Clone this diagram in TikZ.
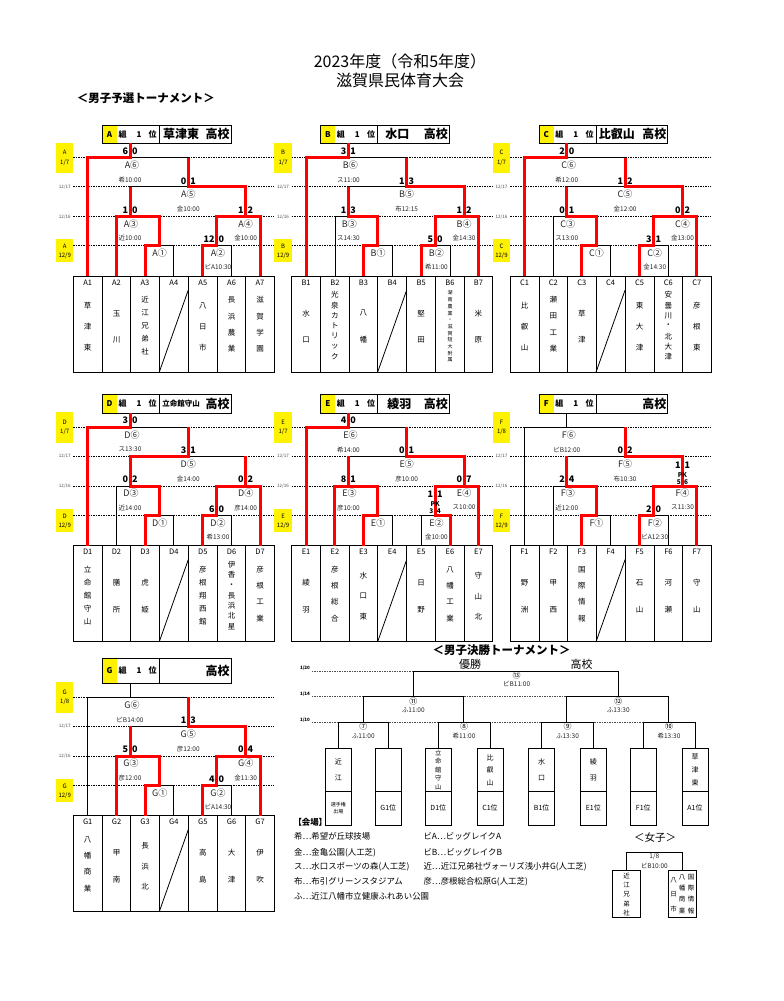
\documentclass[tikz,border=0pt]{standalone}
\usepackage{fontspec}
\setmainfont{Noto Sans CJK JP}
\newcommand{\fs}[1]{\fontsize{#1}{#1}\selectfont}
\newcommand{\tn}[3]{%
  \ifcase#2\or\or\def\yz{313.3}\def\dyy{26.7}%
  \or\def\yz{306}\def\dyy{20.7}%
  \or\def\yz{300}\def\dyy{16.2}%
  \or\def\yz{300}\def\dyy{13}%
  \or\or\def\yz{295}\def\dyy{10.3}\fi
  \foreach \ch [count=\k from 0] in {#3} {\node[nm] at (#1,{\yz+\k*\dyy}) {\ch};}}
\newcommand{\vlist}[5]{\foreach \ch [count=\k from 0] in {#5} {\node[inner sep=0,font=#4] at (#1,{#2+\k*#3}) {\ch};}}
\newcommand{\sco}[4]{\node[sc,anchor=east] at ({#1-1.8},#2) {#3}; \node[sc,anchor=west] at ({#1+1.8},#2) {#4};}
\newcommand{\gven}[5]{\node[ven] at (130,180) {#1}; \node[ven] at (188.3,209) {#2}; \node[ven] at (130,238) {#3}; \node[ven] at (245.7,238) {#4}; \node[ven] at (218,267.3) {#5};}
\newcommand{\gbase}[3]{%
  \fill[yellow] (56,142.7) rectangle (73.3,173.3);
  \node[dt] at (64.7,152.7) {#1};
  \node[dt] at (64.7,162.3) {#2};
  \node[dts] at (64.7,187) {12/17};
  \node[dts] at (64.7,216.7) {12/16};
  \fill[yellow] (56,239) rectangle (73.3,262);
  \node[dt] at (64.7,246.2) {#1};
  \node[dt] at (64.7,255.8) {12/9};
  \foreach \yy in {157.7,186.7,216.7,245.7} {\draw[dl] (73.3,\yy) -- (274.3,\yy);}
  \draw[br] (87.7,276) -- (87.7,157.7) -- (188.3,157.7) -- (188.3,186.7);
  \draw[br] (130,{#3+0}) ++(0,{143.3-#3}) -- (130,157.7);
  \draw[br] (130,216.7) -- (130,186.7) -- (245.7,186.7) -- (245.7,216.7);
  \draw[br] (116.5,276) -- (116.5,216.7) -- (159.3,216.7) -- (159.3,245.7);
  \draw[br] (216.7,245.7) -- (216.7,216.7) -- (260,216.7) -- (260,276);
  \draw[br] (145,276) -- (145,245.7) -- (173.8,245.7) -- (173.8,276);
  \draw[br] (202.7,276) -- (202.7,245.7) -- (231.6,245.7) -- (231.6,276);
  \draw[br] (73.3,276) rectangle (274.3,372);
  \foreach \xx in {102.3,130.7,159.3,188.3,217.3,245.7} {\draw[br] (\xx,276) -- (\xx,372);}
  \draw[br] (159.3,372) -- (188.3,290);
  \foreach \i/\xx in {1/87.7,2/116.5,3/145,4/173.8,5/202.8,6/231.6,7/260} {\node[tid] at (\xx,282.5) {#1\i};}
  \fill[yellow] (102.3,#3) rectangle (117,143.3);
  \draw[br] (102.3,#3) rectangle (231,143.3);
  \draw[br] (159.3,#3) -- (159.3,143.3);
  \node[hd] at (109.6,{(#3+143.3)/2}) {#1};
  \node[hd] at (122.5,{(#3+143.3)/2}) {組};
  \node[hd] at (139,{(#3+143.3)/2}) {\itshape 1};
  \node[hd] at (152.7,{(#3+143.3)/2}) {位};
  \node[hn] at (217.5,{(#3+143.3)/2}) {高校};
  \node[lab] at (132,165) {#1⑥};
  \node[lab] at (188.3,194) {#1⑤};
  \node[lab] at (131,223.7) {#1③};
  \node[lab] at (245.7,223.7) {#1④};
  \node[lab] at (159.7,253.3) {#1①};
  \node[lab] at (218,253.3) {#1②};
}
\newcommand{\rsix}{\draw[rd] (130,143.3) -- (130,157.7) -- (87.7,157.7) -- (87.7,276);}
\newcommand{\rfiveR}{\draw[rd] (188.3,157.7) -- (188.3,186.7) -- (245.7,186.7) -- (245.7,216.7) -- (260,216.7) -- (260,276);}
\newcommand{\rthreeL}{\draw[rd] (116.5,276) -- (116.5,216.7) -- (159.3,216.7) -- (159.3,245.7) -- (145,245.7) -- (145,276); \draw[rd] (130,216.7) -- (130,186.7);}
\newcommand{\rthreeR}{\draw[rd] (130,186.7) -- (130,216.7) -- (159.3,216.7) -- (159.3,245.7) -- (145,245.7) -- (145,276);}
\newcommand{\rtwo}[1]{\draw[rd] (#1,276) -- (#1,245.7) -- (216.7,245.7) -- (216.7,216.7) -- (245.7,216.7);}
\begin{document}
\begin{tikzpicture}[x=1pt,y=-1pt,
  br/.style={line width=0.8pt},
  rd/.style={red, line width=3pt},
  dl/.style={line width=0.6pt, dash pattern=on 1.4pt off 1.1pt},
  lab/.style={font=\fs{9}, text=black!85, inner sep=0},
  ven/.style={font=\fs{6.5}, text=black!85, inner sep=0},
  sc/.style={font=\bfseries\fs{9}, inner sep=0},
  pk/.style={font=\bfseries\fs{6.5}, inner sep=0},
  nm/.style={font=\fs{7.5}, inner sep=0},
  tid/.style={font=\fs{7.5}, inner sep=0},
  dt/.style={font=\fs{6}, inner sep=0},
  dts/.style={font=\fs{4.5}, text=black!70, inner sep=0},
  hd/.style={font=\bfseries\fs{8}, inner sep=0},
  hn/.style={font=\bfseries\fs{12}, inner sep=0},
  lg/.style={font=\fs{8.4}, inner sep=0, anchor=west},
  fb/.style={line width=0.8pt}]
\useasboundingbox (0,0) rectangle (784,1001);
\fill[white] (0,0) rectangle (784,1001);
% titles
\node[font=\fs{16}, inner sep=0] (t1) at (400,61.7) {2023年度（令和5年度）};
\node[font=\fs{16}, inner sep=0] (t2) at (400,80) {滋賀県民体育大会};
\node[font=\bfseries\fs{11.5}, inner sep=0, anchor=west] (t3) at (76.7,98.3) {＜男子予選トーナメント＞};
% ---------- Group A
\begin{scope}
\gbase{A}{1/7}{125}
\node[hn] at (181,134.2) {草津東};
\rsix \rfiveR \rthreeL \rtwo{202.7}
\sco{130}{151}{6}{0} \sco{188.3}{181}{0}{1} \sco{130}{210}{1}{0} \sco{245.7}{210}{1}{2} \sco{216.7}{239.3}{12}{0}
\gven{希10:00}{金10:00}{近10:00}{金10:00}{ビA10:30}
\tn{87.7}{3}{草,津,東} \tn{116.5}{2}{玉,川} \tn{145}{5}{近,江,兄,弟,社} \tn{202.8}{3}{八,日,市} \tn{231.6}{4}{長,浜,農,業} \tn{260}{4}{滋,賀,学,園}
\end{scope}
% ---------- Group B
\begin{scope}[shift={(218.4,0)}]
\gbase{B}{1/7}{125}
\node[hn] at (179,134.2) {水口};
\rsix \rfiveR \rthreeR \rtwo{202.7}
\sco{130}{151}{3}{1} \sco{188.3}{181}{1}{3} \sco{130}{210}{1}{3} \sco{245.7}{210}{1}{2} \sco{216.7}{239.3}{5}{0}
\gven{ス11:00}{布12:15}{ス14:30}{金14:30}{希11:00}
\tn{87.7}{2}{水,口} \tn{116.5}{7}{光,泉,カ,ト,リ,ッ,ク} \tn{145}{2}{八,幡} \tn{202.8}{2}{堅,田}
\vlist{231.6}{293}{6.7}{\fs{5}}{湖,南,農,業,・,滋,賀,短,大,附,属}
\tn{260}{2}{米,原}
\end{scope}
% ---------- Group C
\begin{scope}[shift={(436.8,0)}]
\gbase{C}{1/7}{125}
\node[hn] at (180,134.2) {比叡山};
\rsix \rfiveR \rthreeR \rtwo{202.7}
\sco{130}{151}{2}{0} \sco{188.3}{181}{1}{2} \sco{130}{210}{0}{1} \sco{245.7}{210}{0}{2} \sco{216.7}{239.3}{3}{1}
\gven{希12:00}{金12:00}{ス13:00}{金13:00}{金14:30}
\tn{87.7}{3}{比,叡,山} \tn{116.5}{4}{瀬,田,工,業} \tn{145}{2}{草,津} \tn{202.8}{3}{東,大,津} \tn{231.6}{7}{安,曇,川,・,北,大,津} \tn{260}{3}{彦,根,東}
\end{scope}
% ---------- Group D
\begin{scope}[shift={(0,269.6)}]
\gbase{D}{1/7}{125}
\node[font=\bfseries\fs{7.5}, inner sep=0] at (181,134.2) {立命館守山};
\rsix
\draw[rd] (245.7,186.7) -- (245.7,216.7) -- (260,216.7) -- (260,276);
\draw[rd] (188.3,157.7) -- (188.3,186.7) -- (130,186.7) -- (130,216.7) -- (159.3,216.7) -- (159.3,245.7) -- (145,245.7) -- (145,276);
\rtwo{202.7}
\sco{130}{151}{3}{0} \sco{188.3}{181}{3}{1} \sco{130}{210}{0}{2} \sco{245.7}{210}{0}{2} \sco{216.7}{239.3}{6}{0}
\gven{ス13:30}{金14:00}{近14:00}{彦14:00}{希13:00}
\tn{87.7}{5}{立,命,館,守,山} \tn{116.5}{2}{膳,所} \tn{145}{2}{虎,姫} \tn{202.8}{5}{彦,根,翔,西,館} \tn{231.6}{7}{伊,香,・,長,浜,北,星} \tn{260}{4}{彦,根,工,業}
\end{scope}
% ---------- Group E
\begin{scope}[shift={(218.4,269.6)}]
\gbase{E}{1/7}{125}
\node[hn] at (181,134.2) {綾羽};
\rsix \rfiveR \rthreeL \rtwo{231.6}
\sco{130}{151}{4}{0} \sco{188.3}{181}{0}{1} \sco{130}{210}{8}{1} \sco{245.7}{210}{0}{7}
\sco{216.7}{224.7}{1}{1}
\node[pk] at (216.7,234.5) {PK};
\node[pk,anchor=east] at (215.2,242) {3}; \node[pk,anchor=west] at (218.2,242) {4};
\gven{希14:00}{彦10:00}{彦10:00}{ス10:00}{金10:00}
\tn{87.7}{2}{綾,羽} \tn{116.5}{4}{彦,根,総,合} \tn{145}{3}{水,口,東} \tn{202.8}{2}{日,野} \tn{231.6}{4}{八,幡,工,業} \tn{260}{3}{守,山,北}
\end{scope}
% ---------- Group F
\begin{scope}[shift={(436.8,269.6)}]
\gbase{F}{1/8}{125}
\rfiveR \rthreeR \rtwo{202.7}
\sco{188.3}{181}{0}{2} \sco{130}{210}{2}{4} \sco{216.7}{239.3}{2}{0}
\sco{245.7}{195.4}{1}{1}
\node[pk] at (245.7,205.5) {PK};
\node[pk,anchor=east] at (244.2,213) {5}; \node[pk,anchor=west] at (247.2,213) {6};
\gven{ビB12:00}{布10:30}{近12:00}{ス11:30}{ビA12:30}
\tn{87.7}{2}{野,洲} \tn{116.5}{2}{甲,西} \tn{145}{4}{国,際,情,報} \tn{202.8}{2}{石,山} \tn{231.6}{2}{河,瀬} \tn{260}{2}{守,山}
\end{scope}
% ---------- Group G
\begin{scope}[shift={(0,539.6)}]
\gbase{G}{1/8}{118.7}
\rfiveR \rthreeL \rtwo{202.7}
\sco{188.3}{181}{1}{3} \sco{130}{210}{5}{0} \sco{245.7}{210}{0}{4} \sco{216.7}{239.3}{4}{0}
\gven{ビB14:00}{彦12:00}{彦12:00}{金11:30}{ビA14:30}
\tn{87.7}{4}{八,幡,商,業} \tn{116.5}{2}{甲,南} \tn{145}{3}{長,浜,北} \tn{202.8}{2}{高,島} \tn{231.6}{2}{大,津} \tn{260}{2}{伊,吹}
\end{scope}
% ---------- Final tournament
\node[font=\bfseries\fs{11.5}, inner sep=0] (ft) at (501.7,650) {＜男子決勝トーナメント＞};
\node[font=\fs{11}, inner sep=0] (win) at (470,664) {優勝};
\node[font=\fs{11}, inner sep=0] (wins) at (581.7,664) {高校};
\draw[dl, black!70] (311.7,671) -- (618.3,671);
\draw[dl, black!70] (311.7,696.7) -- (668.3,696.7);
\draw[dl, black!70] (311.7,722.3) -- (695,722.3);
\node[font=\bfseries\fs{4.5}, inner sep=0] at (305,668.5) {1/20};
\node[font=\bfseries\fs{4.5}, inner sep=0] at (305,694.5) {1/14};
\node[font=\bfseries\fs{4.5}, inner sep=0] at (305,720.3) {1/10};
\draw[fb] (413.3,696.7) -- (413.3,671) -- (618.3,671) -- (618.3,696.7);
\draw[fb] (363.3,722.3) -- (363.3,696.7) -- (463.3,696.7) -- (463.3,722.3);
\draw[fb] (566.7,722.3) -- (566.7,696.7) -- (668.3,696.7) -- (668.3,722.3);
\foreach \a/\b in {338.3/388.3,438.3/490,541.7/593.3,643.3/695} {\draw[fb] (\a,748.3) -- (\a,722.3) -- (\b,722.3) -- (\b,748.3);}
\foreach \cx in {338.3,388.3,438.3,490,541.7,593.3,643.3,695} {\draw[fb] ({\cx-13},748.3) rectangle ({\cx+13},825); \draw[fb] ({\cx-13},791) -- ({\cx+13},791);}
\node[font=\fs{8}, inner sep=0] at (516.7,675) {⑬};
\node[ven] at (516.7,684) {ビB11:00};
\node[font=\fs{8}, inner sep=0] at (413.3,701) {⑪};
\node[ven] at (413.3,710) {ふ11:00};
\node[font=\fs{8}, inner sep=0] at (618.3,701) {⑫};
\node[ven] at (618.3,710) {ふ13:30};
\node[font=\fs{8}, inner sep=0] at (363.3,726.7) {⑦};
\node[ven] at (363.3,735.7) {ふ11:00};
\node[font=\fs{8}, inner sep=0] at (464,726.7) {⑧};
\node[ven] at (464,735.7) {希11:00};
\node[font=\fs{8}, inner sep=0] at (567.5,726.7) {⑨};
\node[ven] at (567.5,735.7) {ふ13:30};
\node[font=\fs{8}, inner sep=0] at (669,726.7) {⑩};
\node[ven] at (669,735.7) {希13:30};
\vlist{338.3}{761.7}{16.6}{\fs{7}}{近,江}
\vlist{438.3}{752.7}{8.5}{\fs{6.3}}{立,命,館,守,山}
\vlist{490}{757.3}{12.7}{\fs{7}}{比,叡,山}
\vlist{541.7}{761.7}{16.6}{\fs{7}}{水,口}
\vlist{593.3}{761.7}{16.6}{\fs{7}}{綾,羽}
\vlist{695}{757.3}{12.7}{\fs{7}}{草,津,東}
\node[font=\fs{5}, inner sep=0] at (338.3,805) {選手権};
\node[font=\fs{5}, inner sep=0] at (338.3,811.7) {出場};
\foreach \cx/\t in {388.3/G1位,438.3/D1位,490/C1位,541.7/B1位,593.3/E1位,643.3/F1位,695/A1位} {\node[font=\fs{7}, inner sep=0] at (\cx,808.3) {\t};}
% ---------- Legend
\node[lg, font=\bfseries\fs{8.4}] (kj) at (293.3,822.7) {【会場】};
\node[lg] at (294,836.7) {希…希望が丘球技場};
\node[lg] at (294,852.3) {金…金亀公園(人工芝)};
\node[lg] at (294,866.7) {ス…水口スポーツの森(人工芝)};
\node[lg] at (294,881.7) {布…布引グリーンスタジアム};
\node[lg] at (294,896.7) {ふ…近江八幡市立健康ふれあい公園};
\node[lg] at (423.3,836.7) {ビA…ビッグレイクA};
\node[lg] at (423.3,852.3) {ビB…ビッグレイクB};
\node[lg] at (423.3,866.7) {近…近江兄弟社ヴォーリズ浅小井G(人工芝)};
\node[lg] at (423.3,881.7) {彦…彦根総合松原G(人工芝)};
% ---------- Women
\node[font=\fs{10.5}, inner sep=0] (wm) at (655,837.3) {＜女子＞};
\draw[fb] (626.5,870.7) -- (626.5,852.3) -- (682.5,852.3) -- (682.5,870.7);
\node[ven] at (654.3,856.7) {1/8};
\node[ven] at (654.3,865.7) {ビB10:00};
\draw[fb] (612.3,870.7) rectangle (640.7,917.3);
\draw[fb] (668.3,870.7) rectangle (696.7,917.3);
\vlist{626.5}{876}{9.2}{\fs{6.5}}{近,江,兄,弟,社}
\vlist{673.5}{880}{14.5}{\fs{6.5}}{八,日,市}
\vlist{682.2}{877.3}{11.1}{\fs{6.5}}{八,幡,商,業}
\vlist{691}{877.3}{11.1}{\fs{6.5}}{国,際,情,報}
\end{tikzpicture}
\end{document}
